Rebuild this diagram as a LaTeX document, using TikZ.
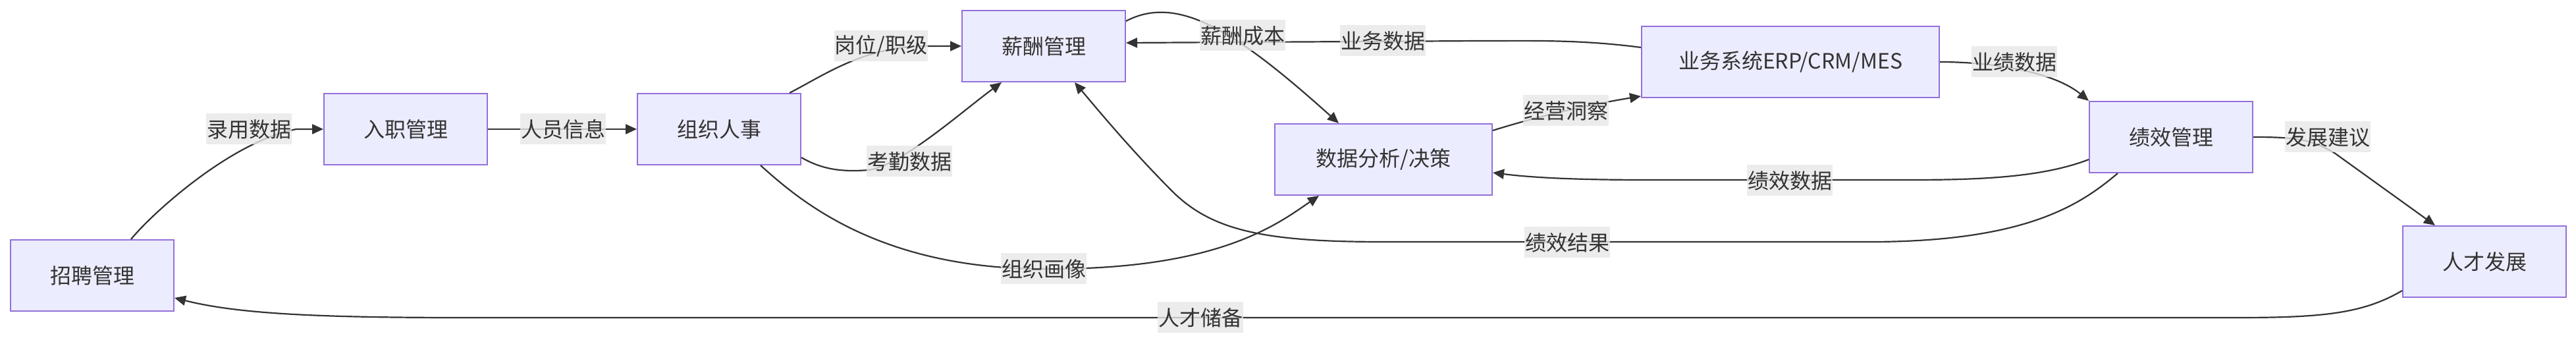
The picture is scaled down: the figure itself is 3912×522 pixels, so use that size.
\documentclass[tikz,border=0pt]{standalone}
\usepackage{fontspec}
\setmainfont{Noto Sans CJK SC}
\usetikzlibrary{arrows.meta,calc}
\definecolor{boxfill}{HTML}{ECECFF}
\definecolor{boxline}{HTML}{9370DB}
\definecolor{edgec}{HTML}{333333}
\definecolor{lblbg}{HTML}{E8E8E8}
\begin{document}
\begin{tikzpicture}[x=0.5pt,y=-0.5pt,
  box/.style={draw=boxline,fill=boxfill,line width=1pt,minimum width=124pt,minimum height=54pt,inner sep=0pt,font=\fontsize{16}{19}\selectfont,text=edgec},
  lbl/.style={fill=lblbg,fill opacity=0.8,text opacity=1,text=edgec,inner xsep=0.5pt,inner ysep=0pt,minimum height=23.5pt,font=\fontsize{16}{19}\selectfont},
  edge/.style={draw=edgec,line width=1.1pt,-{Triangle[length=8.5pt,width=7.5pt]}}
]
\useasboundingbox (0,0) rectangle (3912,522);
\fill[white] (0,0) rectangle (3912,522);

\node[box] (zp) at (140,418) {招聘管理};
\node[box] (rz) at (616,196) {入职管理};
\node[box] (zz) at (1092,196) {组织人事};
\node[box] (xc) at (1585,70) {薪酬管理};
\node[box,minimum width=165pt] (sj) at (2101,242) {数据分析/决策};
\node[box,minimum width=226pt] (yw) at (2719,94) {业务系统ERP/CRM/MES};
\node[box] (jx) at (3297,208) {绩效管理};
\node[box] (rc) at (3773,397) {人才发展};

\draw[edge] ($(zp.north)+(59,0)$) .. controls (230,325) and (350,215) .. (450,196) -- (rz.west);
\draw[edge] (rz.east) -- (zz.west);
\draw[edge] ($(zz.north)+(107,0)$) .. controls (1250,115) and (1310,72) .. (1400,70) -- (xc.west);
\draw[edge] ($(zz.east)+(0,43)$) .. controls (1250,258) and (1280,261) .. (1320,258) .. controls (1370,250) and (1460,170) .. ($(xc.south)+(-64,0)$);
\draw[edge] ($(xc.east)+(0,-38)$) .. controls (1790,-10) and (1880,50) .. ($(sj.north)+(-68,0)$);
\draw[edge] ($(yw.west)+(0,-22)$) .. controls (2400,60) and (2330,62) .. (2250,62) -- ($(xc.east)+(0,-5)$);
\draw[edge] ($(sj.east)+(0,-44)$) .. controls (2350,172) and (2430,156) .. ($(yw.south west)+(0,-3)$);
\draw[edge] (yw.east) .. controls (3030,94) and (3120,110) .. (jx.north west);
\draw[edge] ($(jx.west)+(0,34)$) .. controls (3100,270) and (3000,273) .. (2900,273) -- (2500,273) .. controls (2400,273) and (2330,270) .. ($(sj.east)+(0,20)$);
\draw[edge] (jx.east) .. controls (3490,208) and (3510,212) .. (3545,232) -- ($(rc.north)+(-75,0)$);
\draw[edge] ($(zz.south)+(63,0)$) .. controls (1210,300) and (1330,408) .. (1585,408) .. controls (1850,410) and (1940,340) .. ($(sj.south)+(-98,0)$);
\draw[edge] ($(jx.south)+(-81,0)$) .. controls (3160,310) and (3080,365) .. (2850,367) -- (2100,367) .. controls (1920,367) and (1840,350) .. (1780,290) .. controls (1720,230) and (1670,170) .. ($(xc.south)+(47,0)$);
\draw[edge] ($(rc.west)+(0,44)$) .. controls (3590,475) and (3530,482) .. (3400,482) -- (700,482) .. controls (480,482) and (360,476) .. ($(zp.east)+(0,34)$);

\node[lbl] (l1) at (378,196) {录用数据};
\node[lbl] (l2) at (855,196) {人员信息};
\node[lbl] (l3) at (1338,70) {岗位/职级};
\node[lbl] (l4) at (1381,245) {考勤数据};
\node[lbl] (l5) at (1887,54) {薪酬成本};
\node[lbl] (l6) at (2100,62) {业务数据};
\node[lbl] (l7) at (2378,168) {经营洞察};
\node[lbl] (l8) at (3059,94) {业绩数据};
\node[lbl] (l9) at (2718,274) {绩效数据};
\node[lbl] (l10) at (3535,208) {发展建议};
\node[lbl] (l11) at (1585,408) {组织画像};
\node[lbl] (l12) at (2380,368) {绩效结果};
\node[lbl] (l13) at (1823,482) {人才储备};
\end{tikzpicture}
\end{document}
